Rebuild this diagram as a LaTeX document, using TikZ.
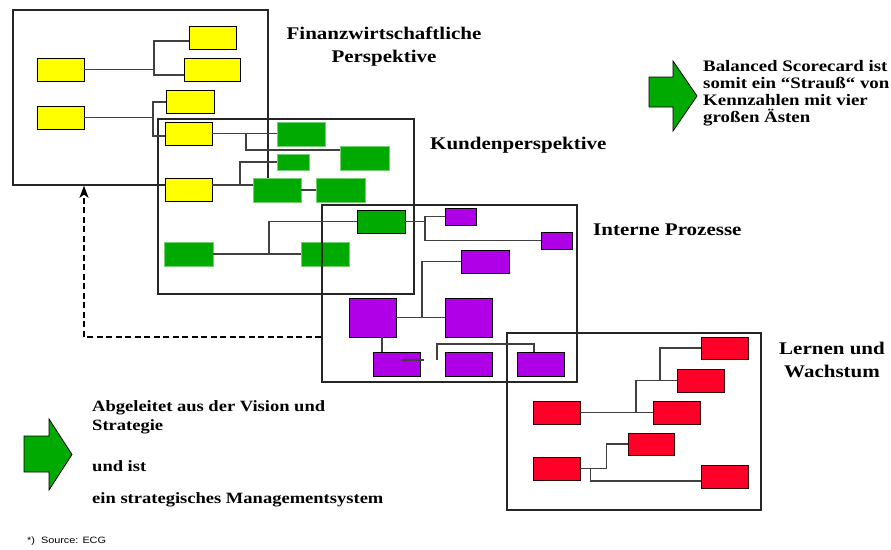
\documentclass[tikz,border=0pt]{standalone}
\usepackage{fontspec}
\setmainfont{Liberation Serif}[FakeStretch=1.18]
\setsansfont{Liberation Sans}[FakeStretch=1.18]
\usetikzlibrary{arrows.meta}

\definecolor{kpiyellow}{RGB}{255,255,0}
\definecolor{kpigreen}{RGB}{0,170,0}
\definecolor{kpipurple}{RGB}{176,0,232}
\definecolor{kpired}{RGB}{255,0,40}

\begin{document}
\begin{tikzpicture}[x=1pt,y=-1pt,
  zone/.style={draw=black!85, line width=1.4pt, inner sep=0pt},
  kbox/.style={minimum width=47pt, minimum height=23pt, inner sep=0pt},
  ybox/.style={kbox, fill=kpiyellow, draw=black, line width=0.9pt},
  gbox/.style={kbox, fill=kpigreen, draw=kpigreen!55, line width=0.6pt},
  pbox/.style={kbox, fill=kpipurple, draw=black, line width=0.9pt},
  rbox/.style={kbox, fill=kpired, draw=black!80!kpired, line width=0.9pt},
  link/.style={draw=black!75, line width=1.3pt},
  feedback/.style={draw=black, line width=1.5pt, dash pattern=on 6pt off 3.5pt, -{Stealth[length=12pt,width=9pt,inset=3pt]}},
  bigarrow/.style={fill=kpigreen, draw=black, line width=0.8pt},
  heading/.style={font=\bfseries\fontsize{17.8}{23}\selectfont, inner sep=0pt},
  remark/.style={font=\bfseries\fontsize{16}{17}\selectfont, inner sep=0pt, align=left}]
\useasboundingbox (0,0) rectangle (891,549);

\node[zone, minimum width=255pt, minimum height=175pt] (fin) at (140.5,97.5) {};
\node[zone, minimum width=256pt, minimum height=175pt] (kun) at (286,206.5) {};

\node[ybox] (y1) at (212.5,37.5) {};
\node[ybox, minimum width=56pt] (y2) at (212,69.5) {};
\node[ybox] (y3) at (60.5,69.5) {};
\node[ybox] (y4) at (60.5,117.5) {};
\node[ybox, minimum width=48pt] (y5) at (190,101.5) {};
\node[ybox] (y6) at (188.5,133.5) {};
\node[ybox] (y7) at (188.5,189.5) {};

\node[gbox, minimum width=48pt, minimum height=24pt] (g1) at (301,134) {};
\node[gbox, minimum width=49pt, minimum height=24pt] (g2) at (364.5,158) {};
\node[gbox, minimum width=32pt, minimum height=16pt] (g3) at (293,162) {};
\node[gbox, minimum width=48pt, minimum height=24pt] (g4) at (277,190) {};
\node[gbox, minimum width=49pt, minimum height=24pt] (g5) at (340.5,190) {};
\node[gbox, minimum width=48pt, draw=black, line width=0.9pt] (g6) at (381,221.5) {};
\node[gbox, minimum width=49pt, minimum height=24pt] (g7) at (188.5,254) {};
\node[gbox, minimum width=48pt, minimum height=24pt] (g8) at (325,254) {};

\node[pbox, minimum width=31pt, minimum height=17pt] (p1) at (460.5,216.5) {};
\node[pbox, minimum width=31pt, minimum height=17pt] (p2) at (556.5,240.5) {};
\node[pbox, minimum width=48pt] (p3) at (485,261.5) {};
\node[pbox, minimum height=39pt] (p4) at (372.5,317.5) {};
\node[pbox, minimum height=39pt] (p5) at (468.5,317.5) {};
\node[pbox, minimum height=24pt] (p6) at (396.5,364) {};
\node[pbox, minimum height=24pt] (p7) at (468.5,364) {};
\node[pbox, minimum height=24pt] (p8) at (540.5,364) {};

\node[rbox, minimum height=22pt] (r1) at (724.5,348) {};
\node[rbox] (r2) at (700.5,380.5) {};
\node[rbox] (r3) at (556.5,412.5) {};
\node[rbox] (r4) at (676.5,412.5) {};
\node[rbox, minimum width=46pt, minimum height=22pt] (r5) at (651,444) {};
\node[rbox] (r6) at (556.5,468.5) {};
\node[rbox] (r7) at (724.5,476.5) {};

\node[zone, minimum width=255pt, minimum height=177pt] (int) at (449.5,293.5) {};
\node[zone, minimum width=254pt, minimum height=177pt] (ler) at (634,421.5) {};

\coordinate (f1) at (154,41);
\coordinate (f2) at (154,75);
\coordinate (f3) at (153,102);
\coordinate (f4) at (153,136);
\draw[link] (y3.east) -- (y3.east -| f1);
\draw[link] (y1.west |- f1) -- (f1) -- (f2) -- (y2.west |- f2);
\draw[link] (y4.east) -- (y4.east -| f3);
\draw[link] (y5.west |- f3) -- (f3) -- (f4) -- (y6.west |- f4);

\coordinate (k1) at (246,133.5);
\coordinate (k2) at (246,150);
\coordinate (k3) at (240,185);
\coordinate (k4) at (269,254);
\draw[link] (y6.east) -- (y6.east -| g1.west);
\draw[link] (k1) -- (k2) -- (k2 -| g2.west);
\draw[link] (y7.east |- k3) -- (k3 -| g4.west);
\draw[link] (k3) |- (g3.west);
\draw[link] (g4) -- (g5);
\draw[link] (g7) -- (g8);
\draw[link] (k4) |- (g6.west);

\coordinate (i1) at (425,221.5);
\coordinate (i2) at (422,317.5);
\coordinate (i4) at (437,344);
\coordinate (i5) at (534,344);
\coordinate (i6) at (402,360);
\coordinate (i7) at (424,360);
\draw[link] (g6.east) -- (i1);
\draw[link] (p1.west) -| (i1 |- p2.west) -- (p2.west);
\draw[link] (p3.west) -| (i2);
\draw[link] (p4) -- (p5);
\draw[link] ([xshift=9.5pt]p4.south) -- ([xshift=-14.5pt]p6.north);
\draw[link] (i6) -- (i7);
\draw[link] (i4 |- i7) -- (i4) -- (i5) -- (i5 |- p8.north);

\coordinate (l1) at (636,412.5);
\coordinate (l2) at (660,380.5);
\draw[link] (r3) -- (r4);
\draw[link] (l1) |- (r2.west);
\draw[link] (l2) |- (r1.west);
\draw[link] (r6.east) -| ([xshift=-21pt]r5.west) -- (r5.west);
\draw[link] ([xshift=10pt]r6.east) |- ([yshift=-4.5pt]r7.west);

\draw[feedback] ([yshift=-43.5pt]int.west) -| ([xshift=-56.5pt]fin.south);

\draw[bigarrow] (649,77) -- (673,77) -- (673,61) -- (697,96) -- (673,131) -- (673,107) -- (649,107) -- cycle;
\draw[bigarrow] (24,436) -- (49,436) -- (49,419) -- (72,454.5) -- (49,490) -- (49,472) -- (24,472) -- cycle;

\node[heading, align=center, anchor=base] (tfin) at (384,62) {Finanzwirtschaftliche\\Perspektive};
\node[heading, anchor=base west] (tkun) at (430,149) {Kundenperspektive};
\node[heading, anchor=base west] (tint) at (593,235) {Interne Prozesse};
\node[heading, align=center, anchor=base] (tler) at (832,377) {Lernen und\\Wachstum};
\node[remark, anchor=base west] (tbsc) at (703,122) {Balanced Scorecard ist\\somit ein “Strauß“ von\\Kennzahlen mit vier\\großen Ästen};
\node[remark, font=\bfseries\fontsize{15.7}{19}\selectfont, anchor=base west] (tvis) at (92,503) {Abgeleitet aus der Vision und\\Strategie\\[22pt]und ist\\[13pt]ein strategisches Managementsystem};
\node[font=\sffamily\fontsize{9.2}{11}\selectfont, anchor=base west, inner sep=0pt] (src) at (27,543) {*)~~Source: ECG};
\end{tikzpicture}
\end{document}
